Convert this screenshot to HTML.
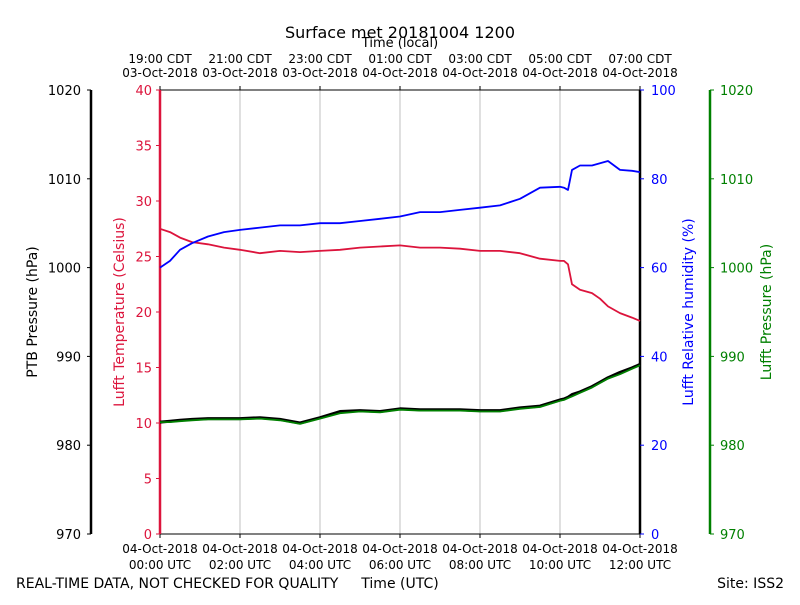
<!DOCTYPE html>
<html><head><meta charset="utf-8"><style>
body{margin:0;background:#fff;}
svg{font-family:"DejaVu Sans","Liberation Sans",sans-serif;}
</style></head><body>
<svg id="chart" width="800" height="600" xmlns="http://www.w3.org/2000/svg">
<rect width="800" height="600" fill="#fff"/>
<text x="400" y="38" font-size="16" text-anchor="middle">Surface met 20181004 1200</text>
<text x="400" y="47" font-size="13" text-anchor="middle">Time (local)</text>
<g id="grid"></g>
<g id="axes"></g>
<g id="series"></g>
<text x="16" y="588" font-size="14">REAL-TIME DATA, NOT CHECKED FOR QUALITY</text>
<text x="400" y="588" font-size="14" text-anchor="middle">Time (UTC)</text>
<text x="784" y="588" font-size="14" text-anchor="end">Site: ISS2</text>
</svg>
<script>
const hours=[0,0.25,0.5,0.8,1.2,1.6,2,2.5,3,3.5,4,4.5,5,5.5,6,6.5,7,7.5,8,8.5,9,9.5,10,10.1,10.2,10.3,10.5,10.8,11,11.2,11.5,11.8,12];
const tempC=[27.5,27.2,26.7,26.3,26.1,25.8,25.6,25.3,25.5,25.4,25.5,25.6,25.8,25.9,26.0,25.8,25.8,25.7,25.5,25.5,25.3,24.8,24.6,24.6,24.3,22.5,22.0,21.7,21.2,20.5,19.9,19.5,19.2];
const humidity=[60,61.5,64,65.5,67,68,68.5,69,69.5,69.5,70,70,70.5,71,71.5,72.5,72.5,73,73.5,74,75.5,78,78.2,78,77.5,82,83,83,83.5,84,82,81.8,81.5];
const ptb=[982.6,982.7,982.8,982.9,983.0,983.0,983.0,983.1,982.9,982.5,983.1,983.8,983.9,983.8,984.1,984.0,984.0,984.0,983.9,983.9,984.2,984.4,985.1,985.2,985.4,985.7,986.0,986.6,987.1,987.6,988.2,988.7,989.1];
const lufftP=[982.6,982.6,982.7,982.8,982.9,982.9,982.9,983.0,982.8,982.4,983.0,983.6,983.8,983.7,984.0,983.9,983.9,983.9,983.8,983.8,984.1,984.3,985.0,985.1,985.3,985.5,985.9,986.5,987.0,987.5,988.0,988.6,989.0];
const topTicks=[["19:00 CDT","03-Oct-2018"],["21:00 CDT","03-Oct-2018"],["23:00 CDT","03-Oct-2018"],["01:00 CDT","04-Oct-2018"],["03:00 CDT","04-Oct-2018"],["05:00 CDT","04-Oct-2018"],["07:00 CDT","04-Oct-2018"]];
const bottomTicks=[["04-Oct-2018","00:00 UTC"],["04-Oct-2018","02:00 UTC"],["04-Oct-2018","04:00 UTC"],["04-Oct-2018","06:00 UTC"],["04-Oct-2018","08:00 UTC"],["04-Oct-2018","10:00 UTC"],["04-Oct-2018","12:00 UTC"]];
const tempTicks=[0,5,10,15,20,25,30,35,40];
const humTicks=[0,20,40,60,80,100];
const presTicks=[970,980,990,1000,1010,1020];

const NS="http://www.w3.org/2000/svg";
const X0=160,X1=640,Y0=534,Y1=90;
const xs=h=>X0+(X1-X0)*h/12;
const yT=v=>Y0-(Y0-Y1)*v/40;
const yH=v=>Y0-(Y0-Y1)*v/100;
const yP=v=>Y0-(Y0-Y1)*(v-970)/50;
function mk(tag,attrs,parent,txt){const e=document.createElementNS(NS,tag);for(const k in attrs)e.setAttribute(k,attrs[k]);if(txt!==undefined)e.textContent=txt;parent.appendChild(e);return e;}
const grid=document.getElementById('grid'),axes=document.getElementById('axes'),ser=document.getElementById('series');
for(let i=1;i<6;i++){const l=mk('line',{x1:xs(i*2),x2:xs(i*2),y1:Y1,y2:Y0,stroke:'#b0b0b0','stroke-width':0.8},grid);

}
mk('line',{x1:X0,x2:X1,y1:Y1,y2:Y1,stroke:'#000','stroke-width':1},axes);
mk('line',{x1:X0,x2:X1,y1:Y0,y2:Y0,stroke:'#000','stroke-width':1},axes);
topTicks.forEach((t,i)=>{const x=xs(i*2);mk('line',{x1:x,x2:x,y1:Y1,y2:Y1-4,stroke:'#000'},axes);
const a=mk('text',{x:x,y:63,'font-size':12,'text-anchor':'middle'},axes,t[0]);


mk('text',{x:x,y:77,'font-size':12,'text-anchor':'middle'},axes,t[1]);});
bottomTicks.forEach((t,i)=>{const x=xs(i*2);mk('line',{x1:x,x2:x,y1:Y0,y2:Y0+4,stroke:'#000'},axes);
const a=mk('text',{x:x,y:553,'font-size':12,'text-anchor':'middle'},axes,t[0]);


mk('text',{x:x,y:569,'font-size':12,'text-anchor':'middle'},axes,t[1]);});
mk('line',{x1:X0,x2:X0,y1:Y1,y2:Y0,stroke:'#dc143c','stroke-width':2.5},axes);
tempTicks.forEach(v=>{mk('line',{x1:X0,x2:X0-4,y1:yT(v),y2:yT(v),stroke:'#dc143c'},axes);mk('text',{x:X0-8,y:yT(v)+5,'font-size':13,'text-anchor':'end',fill:'#dc143c'},axes,v);});
mk('text',{transform:`translate(124,312) rotate(-90)`,'font-size':14,'text-anchor':'middle',fill:'#dc143c'},axes,'Lufft Temperature (Celsius)');
mk('line',{x1:X1,x2:X1,y1:Y1,y2:Y0,stroke:'#000','stroke-width':2.5},axes);
humTicks.forEach(v=>{mk('line',{x1:X1,x2:X1+4,y1:yH(v),y2:yH(v),stroke:'#0000ff'},axes);mk('text',{x:X1+11,y:yH(v)+5,'font-size':13,fill:'#0000ff'},axes,v);});
mk('text',{transform:`translate(693,312) rotate(-90)`,'font-size':14,'text-anchor':'middle',fill:'#0000ff'},axes,'Lufft Relative humidity (%)');
mk('line',{x1:91,x2:91,y1:Y1,y2:Y0,stroke:'#000','stroke-width':2.5},axes);
presTicks.forEach(v=>{mk('line',{x1:91,x2:87,y1:yP(v),y2:yP(v),stroke:'#000'},axes);mk('text',{x:81,y:yP(v)+5,'font-size':13,'text-anchor':'end'},axes,v);});
mk('text',{transform:`translate(37,312) rotate(-90)`,'font-size':14,'text-anchor':'middle'},axes,'PTB Pressure (hPa)');
mk('line',{x1:710,x2:710,y1:Y1,y2:Y0,stroke:'#008000','stroke-width':2.5},axes);
presTicks.forEach(v=>{mk('line',{x1:710,x2:714,y1:yP(v),y2:yP(v),stroke:'#008000'},axes);mk('text',{x:720,y:yP(v)+5,'font-size':13,fill:'#008000'},axes,v);});
mk('text',{transform:`translate(771,312) rotate(-90)`,'font-size':14,'text-anchor':'middle',fill:'#008000'},axes,'Lufft Pressure (hPa)');
function line(vals,yf,color,w,name){const d=vals.map((v,i)=>(i?'L':'M')+xs(hours[i]).toFixed(1)+','+yf(v).toFixed(1)).join('');
const p=mk('path',{d:d,fill:'none',stroke:color,'stroke-width':w,'stroke-linejoin':'round'},ser);

}
line(ptb,yP,'#000',3,'ptb-pressure-line');
line(lufftP,yP,'#008000',1.8,'lufft-pressure-line');
line(tempC,yT,'#dc143c',1.8,'temperature-line');
line(humidity,yH,'#0000ff',1.8,'humidity-line');
</script>
</body></html>
